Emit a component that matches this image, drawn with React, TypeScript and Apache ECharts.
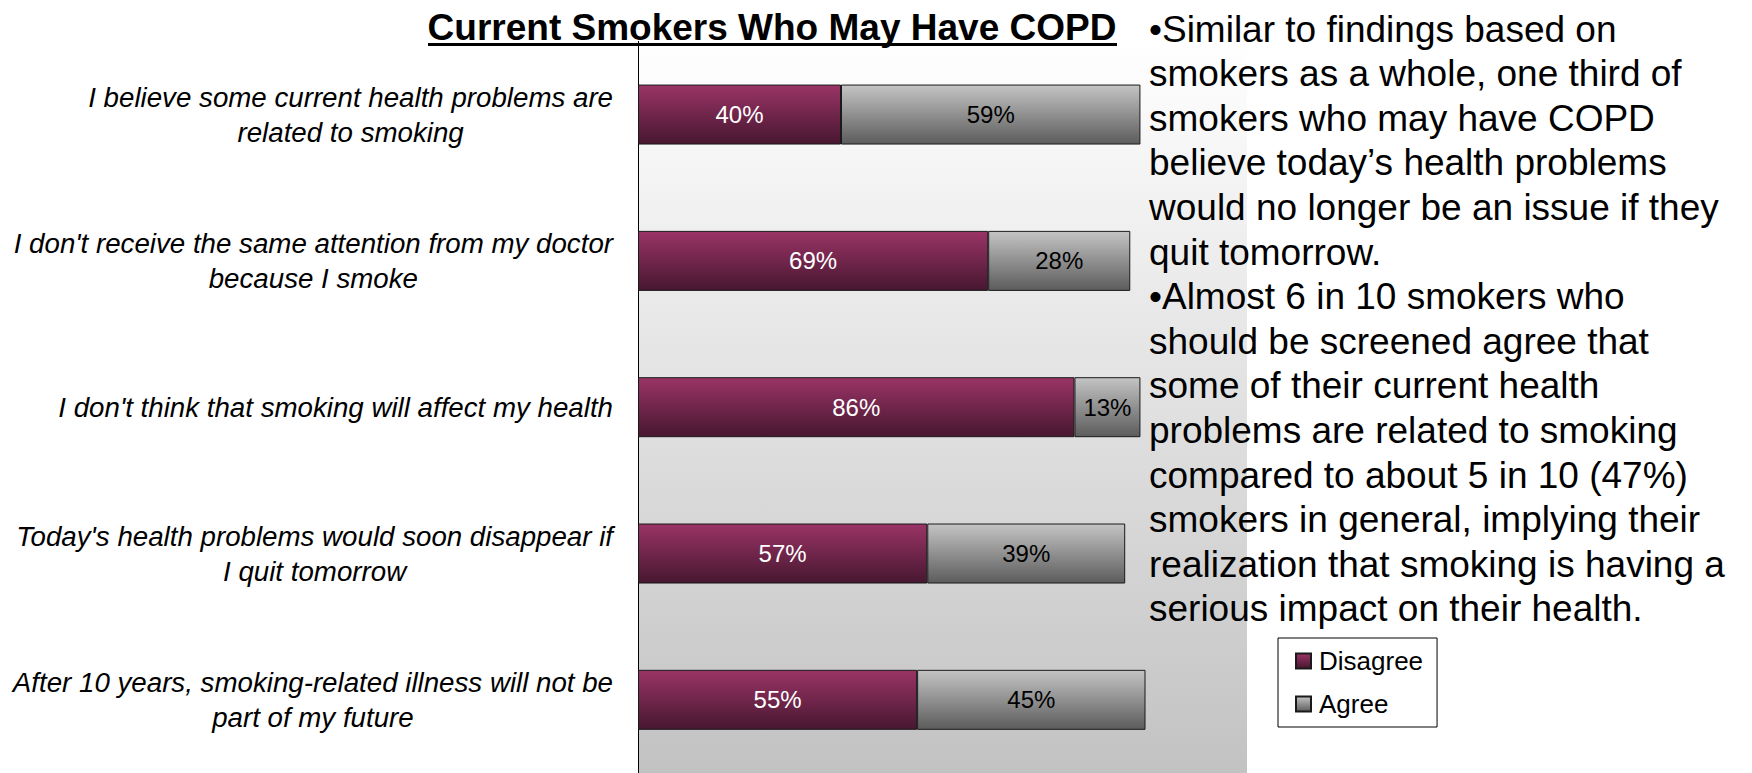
import React, { useEffect, useRef } from 'react';
import * as echarts from 'echarts';

const categories = [
  "I believe some current health problems are\nrelated to smoking",
  "I don't receive the same attention from my doctor\nbecause I smoke",
  "I don't think that smoking will affect my health",
  "Today's health problems would soon disappear if\nI quit tomorrow",
  "After 10 years, smoking-related illness will not be\npart of my future",
];
const disagreeValues = [40, 69, 86, 57, 55];
const agreeValues = [59, 28, 13, 39, 45];
const seriesNames = ['Disagree', 'Agree'];
const titleText = 'Current Smokers Who May Have COPD';
const noteLines = [
  '\u2022Similar to findings based on',
  'smokers as a whole, one third of',
  'smokers who may have COPD',
  'believe today\u2019s health problems',
  'would no longer be an issue if they',
  'quit tomorrow.',
  '\u2022Almost 6 in 10 smokers who',
  'should be screened agree that',
  'some of their current health',
  'problems are related to smoking',
  'compared to about 5 in 10 (47%)',
  'smokers in general, implying their',
  'realization that smoking is having a',
  'serious impact on their health.',
];

const FONT = '"Liberation Sans", Arial, Helvetica, sans-serif';

export default function App() {
  const ref = useRef<HTMLDivElement>(null);
  useEffect(() => {
    document.body.style.margin = '0';
    if (!ref.current) return;
    const chart = echarts.init(ref.current, null, { renderer: 'svg' });
    const grad = (a: string, b: string) =>
      new echarts.graphic.LinearGradient(0, 0, 0, 1, [
        { offset: 0, color: a },
        { offset: 1, color: b },
      ]);
    chart.setOption({
      animation: false,
      backgroundColor: '#ffffff',
      textStyle: { fontFamily: FONT },
      grid: {
        left: 638,
        top: 41.4,
        width: 609,
        height: 736.2,
        show: true,
        borderWidth: 0,
        backgroundColor: grad('#ffffff', '#c2c2c2'),
      },
      xAxis: {
        type: 'value',
        min: 0,
        max: 120,
        show: false,
        splitLine: { show: false },
      },
      yAxis: {
        type: 'category',
        data: categories,
        inverse: true,
        axisLine: { show: true, lineStyle: { color: '#000', width: 1 } },
        axisTick: { show: false },
        splitLine: { show: false },
        axisLabel: {
          margin: 25,
          formatter: (v: string) =>
            v
              .split('\n')
              .map((l) => `{c|${l}}`)
              .join('\n'),
          rich: {
            c: {
              fontSize: 27.7,
              fontStyle: 'italic',
              lineHeight: 35,
              align: 'center',
              color: '#000',
              fontFamily: FONT,
            },
          },
        },
      },
      legend: {
        data: seriesNames,
        orient: 'vertical',
        left: 1278,
        top: 638,
        padding: [10, 14, 10, 17],
        itemGap: 17,
        itemWidth: 15,
        itemHeight: 15,
        icon: 'rect',
        borderColor: '#000',
        borderWidth: 1,
        backgroundColor: '#fff',
        textStyle: { fontSize: 26, color: '#000', fontFamily: FONT, padding: [0, 0, 0, 3] },
      },
      series: [
        {
          name: seriesNames[0],
          type: 'bar',
          stack: 'total',
          data: disagreeValues,
          barWidth: 60,
          itemStyle: {
            color: grad('#9a3466', '#471730'),
            borderColor: '#1a1a1a',
            borderWidth: 1,
          },
          label: {
            show: true,
            position: 'inside',
            formatter: '{c}%',
            color: '#ffffff',
            fontSize: 24,
            fontFamily: FONT,
            textBorderWidth: 0,
          },
        },
        {
          name: seriesNames[1],
          type: 'bar',
          stack: 'total',
          data: agreeValues,
          barWidth: 60,
          itemStyle: {
            color: grad('#c4c4c4', '#5c5c5c'),
            borderColor: '#1a1a1a',
            borderWidth: 1,
          },
          label: {
            show: true,
            position: 'inside',
            formatter: '{c}%',
            color: '#000000',
            fontSize: 24,
            fontFamily: FONT,
            textBorderWidth: 0,
          },
        },
      ],
      graphic: [
        {
          type: 'text',
          z: 100,
          x: 772,
          y: 27,
          style: {
            text: titleText,
            fontSize: 37,
            fontWeight: 'bold',
            fontFamily: FONT,
            fill: '#000',
            align: 'center',
            verticalAlign: 'middle',
          },
        },
        {
          type: 'line',
          z: 100,
          shape: { x1: 428, y1: 44.5, x2: 1117, y2: 44.5 },
          style: { stroke: '#000', lineWidth: 3 },
        },
        {
          type: 'text',
          z: 100,
          x: 1149,
          y: 6.9,
          style: {
            text: noteLines.join('\n'),
            fontSize: 37,
            lineHeight: 44.6,
            fontFamily: FONT,
            fill: '#000',
            align: 'left',
            verticalAlign: 'top',
          },
        },
      ],
    });
    return () => chart.dispose();
  }, []);
  return <div ref={ref} style={{ width: 1752, height: 773, display: 'block' }} />;
}
